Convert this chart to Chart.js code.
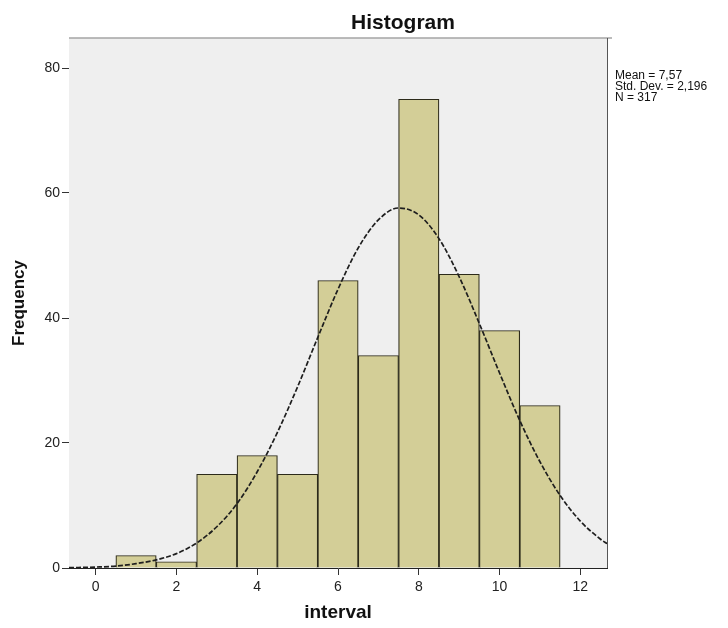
<!DOCTYPE html>
<html>
<head>
<meta charset="utf-8">
<title>Histogram</title>
<script src="https://cdn.jsdelivr.net/npm/chart.js@4/dist/chart.umd.min.js"></script>
<style>
    body { margin: 0; background: #ffffff; }
</style>
</head>
<body>
<canvas id="histogram" width="728" height="628"></canvas>
<script>
// bins of width 1, centred on the integers
const binCenters = [1, 2, 3, 4, 5, 6, 7, 8, 9, 10, 11];
const frequencies = [2, 1, 15, 18, 15, 46, 34, 75, 47, 38, 26];

// normal curve
const curveX = [-0.66, 0, 0.5, 1, 1.5, 2, 2.5, 3, 3.5, 4, 4.5, 5, 5.5, 6, 6.5, 7, 7.5, 8, 8.5, 9, 9.5, 10, 10.5, 11, 11.5, 12, 12.5, 12.66];
const curveY = [0.05, 0.15, 0.3, 0.7, 1.3, 2.3, 4, 6.6, 10.3, 15.4, 21.7, 29, 36.9, 44.6, 51.2, 55.7, 57.6, 56.5, 52.7, 46.6, 39.1, 31.2, 23.6, 17, 11.6, 7.5, 4.6, 3.9];

const xTickValues = [0, 2, 4, 6, 8, 10, 12];
const yTickValues = [0, 20, 40, 60, 80];

const chartTitle = "Histogram";
const xTitle = "interval";
const yTitle = "Frequency";
const statsLines = ["Mean = 7,57", "Std. Dev. = 2,196", "N = 317"];

var barData = binCenters.map((c, i) => ({ x: c, y: frequencies[i] }));
var curveData = curveX.map((x, i) => ({ x: x, y: curveY[i] }));

// plot background, frame, title and the stats box
const frame = {
    id: "frame",
    beforeDatasetsDraw(chart) {
        const a = chart.chartArea;
        const ctx = chart.ctx;
        ctx.save();
        ctx.fillStyle = "#efefef";
        ctx.fillRect(a.left, a.top, a.right - a.left, a.bottom - a.top);
        ctx.restore();
    },
    afterDraw(chart) {
        const a = chart.chartArea;
        const ctx = chart.ctx;
        ctx.save();
        ctx.strokeStyle = "#a4a4a4";
        ctx.lineWidth = 1.5;
        ctx.beginPath();
        ctx.moveTo(a.left, a.top);
        ctx.lineTo(a.right + 5, a.top);
        ctx.stroke();
        ctx.strokeStyle = "#555555";
        ctx.lineWidth = 1;
        ctx.beginPath();
        ctx.moveTo(a.right + 0.5, a.top);
        ctx.lineTo(a.right + 0.5, a.bottom);
        ctx.stroke();

        ctx.fillStyle = "#111111";
        ctx.font = "bold 21px 'Liberation Sans', Arial, sans-serif";
        ctx.textAlign = "center";
        ctx.textBaseline = "alphabetic";
        ctx.fillText(chartTitle, 403, 29);

        ctx.font = "12px 'Liberation Sans', Arial, sans-serif";
        ctx.textAlign = "left";
        ctx.textBaseline = "middle";
        statsLines.forEach((s, i) => {
            ctx.fillText(s, a.right + 8, 76 + i * 11);
        });
        ctx.restore();
    }
};

function setTicks(values) {
    return (scale) => {
        scale.ticks = values.map(v => ({ value: v }));
    };
}

const ctx = document.getElementById("histogram");

const hist = new Chart(ctx, {
    data: {
        datasets: [
            {
                type: "line",
                data: curveData,
                borderColor: "#1e1e1e",
                borderWidth: 1.7,
                borderDash: [5, 2],
                pointRadius: 0,
                fill: false,
                tension: 0.4,
                cubicInterpolationMode: "monotone",
                order: 0
            },
            {
                type: "bar",
                data: barData,
                backgroundColor: "#d3ce97",
                borderColor: "#2c2a1a",
                borderWidth: 1.2,
                barPercentage: 1,
                categoryPercentage: 1,
                order: 1
            }
        ]
    },
    options: {
        responsive: false,
        animation: false,
        devicePixelRatio: 1,
        layout: {
            padding: { left: 0, top: 38, right: 121, bottom: 0 }
        },
        plugins: {
            legend: { display: false },
            tooltip: { enabled: false }
        },
        scales: {
            x: {
                type: "linear",
                bounds: "data",
                min: -0.66,
                max: 12.66,
                offset: false,
                afterBuildTicks: setTicks(xTickValues),
                afterFit: (scale) => { scale.height = 60; },
                ticks: {
                    color: "#222222",
                    padding: 4,
                    maxRotation: 0,
                    font: { family: "'Liberation Sans', Arial, sans-serif", size: 14 }
                },
                grid: {
                    offset: false,
                    drawOnChartArea: false,
                    drawTicks: true,
                    tickLength: 7,
                    tickColor: "#333333",
                    tickWidth: 1
                },
                border: { display: true, color: "#222222", width: 1 },
                title: {
                    display: true,
                    text: xTitle,
                    color: "#111111",
                    padding: { top: 0, bottom: 4 },
                    font: { family: "'Liberation Sans', Arial, sans-serif", size: 19, weight: "bold" }
                }
            },
            y: {
                type: "linear",
                bounds: "data",
                min: 0,
                max: 84.8,
                afterBuildTicks: setTicks(yTickValues),
                afterFit: (scale) => { scale.width = 69; },
                ticks: {
                    color: "#222222",
                    padding: 2,
                    font: { family: "'Liberation Sans', Arial, sans-serif", size: 14 }
                },
                grid: {
                    drawOnChartArea: false,
                    drawTicks: true,
                    tickLength: 7,
                    tickColor: "#333333",
                    tickWidth: 1
                },
                border: { display: false },
                title: {
                    display: true,
                    text: yTitle,
                    color: "#111111",
                    padding: { top: 9, bottom: 0 },
                    font: { family: "'Liberation Sans', Arial, sans-serif", size: 17, weight: "bold" }
                }
            }
        }
    },
    plugins: [frame]
});
</script>
</body>
</html>
